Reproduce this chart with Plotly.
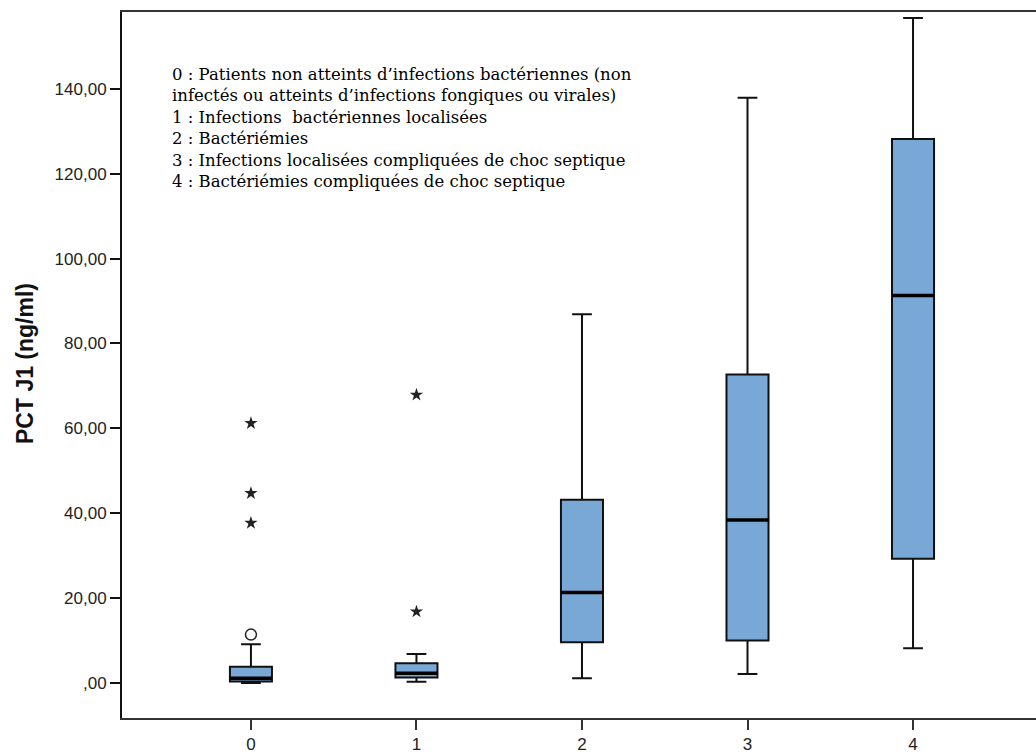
import plotly.graph_objects as go

# Groups and summary statistics of PCT at day 1 (ng/ml)
groups = [0, 1, 2, 3, 4]
group_labels = ["0", "1", "2", "3", "4"]
lower_whisker = [0.0, 0.3, 1.1, 2.1, 8.2]
q1 = [0.35, 1.3, 9.6, 10.0, 29.3]
median = [1.1, 2.3, 21.3, 38.4, 91.3]
q3 = [3.8, 4.65, 43.2, 72.7, 128.2]
upper_whisker = [9.1, 6.85, 86.9, 137.9, 156.7]

# Outliers: mild (circle) and extreme (star)
mild_group = [0]
mild_value = [11.4]
extreme_group = [0, 0, 0, 1, 1]
extreme_value = [61.2, 44.7, 37.7, 67.9, 16.8]

y_tick_vals = [0, 20, 40, 60, 80, 100, 120, 140]
y_tick_text = [",00", "20,00", "40,00", "60,00", "80,00", "100,00", "120,00", "140,00"]

legend_lines = [
    "0 : Patients non atteints d\u2019infections bact\u00e9riennes (non",
    "infect\u00e9s ou atteints d\u2019infections fongiques ou virales)",
    "1 : Infections  bact\u00e9riennes localis\u00e9es",
    "2 : Bact\u00e9ri\u00e9mies",
    "3 : Infections localis\u00e9es compliqu\u00e9es de choc septique",
    "4 : Bact\u00e9ri\u00e9mies compliqu\u00e9es de choc septique",
]

box_width = 0.254
fill = "#79A8D6"

# plot area in pixels (for placing free text)
M_L, M_T, M_B, W, H = 122, 12, 32, 1036, 754
PW, PH = W - M_L, H - M_T - M_B

fig = go.Figure()

fig.add_trace(go.Box(
    x=groups,
    q1=q1,
    median=median,
    q3=q3,
    lowerfence=lower_whisker,
    upperfence=upper_whisker,
    width=box_width,
    whiskerwidth=0.47,
    fillcolor=fill,
    line=dict(color="#111111", width=2),
    boxpoints=False,
    hoverinfo="skip",
    showlegend=False,
))

# Thick median bars drawn over each box
mx, my = [], []
for g, m in zip(groups, median):
    mx += [g - box_width / 2, g + box_width / 2, None]
    my += [m, m, None]
fig.add_trace(go.Scatter(
    x=mx, y=my, mode="lines",
    line=dict(color="black", width=3.5),
    hoverinfo="skip", showlegend=False,
))

fig.add_trace(go.Scatter(
    x=mild_group, y=mild_value, mode="markers",
    marker=dict(symbol="circle-open", size=11, color="#222222", line=dict(width=1.5)),
    hoverinfo="skip", showlegend=False,
))
fig.add_trace(go.Scatter(
    x=extreme_group, y=extreme_value, mode="markers",
    marker=dict(symbol="star", size=10, color="#222222"),
    hoverinfo="skip", showlegend=False,
))

# Group key
fig.add_annotation(
    text="<br>".join(legend_lines),
    xref="paper", yref="paper",
    x=(170 - M_L) / PW, y=1 - (129 - M_T) / PH,
    xanchor="left", yanchor="middle", align="left",
    showarrow=False,
    font=dict(family="DejaVu Serif, serif", size=16.5, color="black"),
)

fig.add_annotation(
    text="<b>PCT J1 (ng/ml)</b>",
    xref="paper", yref="paper",
    x=(25 - M_L) / PW, y=1 - (366 - M_T) / PH,
    xanchor="center", yanchor="middle",
    textangle=-90, showarrow=False,
    font=dict(family="Liberation Sans, Arial, sans-serif", size=23, color="#111111"),
)

fig.update_layout(
    width=W, height=H,
    margin=dict(l=M_L, r=0, t=M_T, b=M_B),
    paper_bgcolor="white", plot_bgcolor="white",
    font=dict(family="Liberation Sans, Arial, sans-serif", size=17, color="#222222"),
    xaxis=dict(
        range=[-0.779, 4.743],
        tickvals=groups, ticktext=group_labels,
        showgrid=False, zeroline=False,
        showline=True, linecolor="#333333", linewidth=2, mirror=True,
        ticks="outside", ticklen=10, tickwidth=2, tickcolor="#333333",
    ),
    yaxis=dict(
        range=[-8.25, 158.1],
        tickvals=y_tick_vals, ticktext=y_tick_text,
        showgrid=False, zeroline=False,
        showline=True, linecolor="#111111", linewidth=2,
        ticks="outside", ticklen=10, tickwidth=2, tickcolor="#111111",
    ),
)

fig.write_html("out.html")
